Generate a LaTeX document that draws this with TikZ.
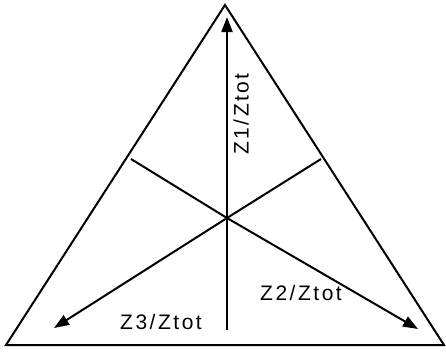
\documentclass[tikz,border=0pt]{standalone}
\usepackage{fontspec}
\setmainfont{Liberation Sans}[LetterSpace=12]
\usetikzlibrary{arrows.meta}
\begin{document}
\begin{tikzpicture}[x=1pt,y=-1pt,
  edge/.style={line width=2pt},
  arr/.style={line width=2pt,-{Triangle[length=15pt,width=11pt]}},
  lbl/.style={font=\fontsize{21}{21}\selectfont,inner sep=0pt}]
\useasboundingbox (0,0) rectangle (446,351);
\coordinate (A) at (225,5);
\coordinate (L) at (6,345);
\coordinate (R) at (444,345);
\draw[edge,line join=miter] (A) -- (L) -- (R) -- cycle;
\coordinate (C) at (227,218);
\coordinate (bot) at (227,330);
\coordinate (top) at (227,17);
\coordinate (ul) at (131,159);
\coordinate (ur) at (321,159);
\coordinate (dl) at (54,328);
\coordinate (dr) at (418,329);
\draw[arr] (bot) -- (top);
\draw[edge] (ul) -- (C) -- (ur);
\draw[arr] (C) -- (dl);
\draw[arr] (C) -- (dr);
\node[lbl,rotate=90] (z1) at (241,114) {Z1/Ztot};
\node[lbl] (z2) at (301,293) {Z2/Ztot};
\node[lbl] (z3) at (161,322) {Z3/Ztot};
\end{tikzpicture}
\end{document}
